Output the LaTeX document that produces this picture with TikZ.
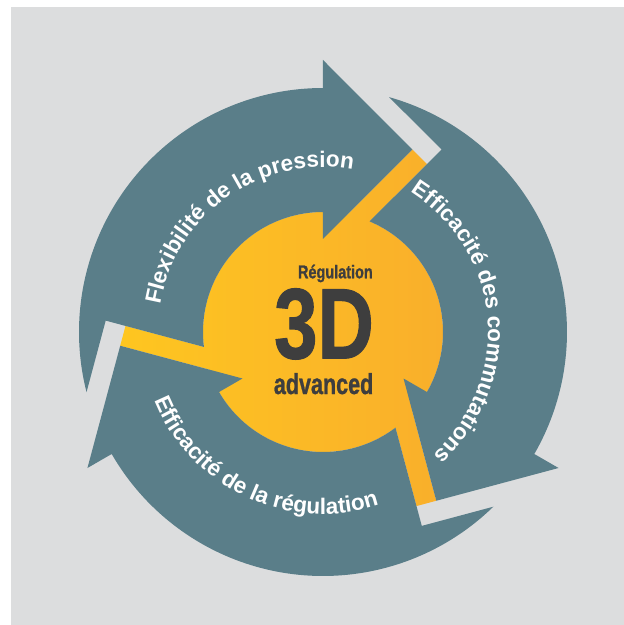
\documentclass[tikz,border=0pt]{standalone}
\usepackage{fontspec}
\usepackage{graphicx}
\setmainfont{Liberation Sans}
\newfontfamily\labfont{Liberation Sans}
\newfontfamily\heavyfont{Liberation Sans}[BoldFeatures={FakeBold=1.2}]
\usetikzlibrary{decorations.text}
\definecolor{bggray}{HTML}{DCDDDE}
\definecolor{arrowc}{HTML}{5A7E89}
\definecolor{yelL}{HTML}{FEC620}
\definecolor{yelR}{HTML}{F9AF2B}
\definecolor{txtdark}{HTML}{3E3E3E}
\begin{document}
\begin{tikzpicture}[x=0.75pt,y=0.75pt,
  arrowshape/.style={fill=arrowc, draw=none},
  curvedlabel/.style={decorate, decoration={text along path, text align=center, text color=white,
     text={|\labfont\bfseries\fontsize{16.9}{20}\selectfont|#1}}},
  centertext/.style={inner sep=0pt, text=txtdark, font=\heavyfont\bfseries}]
\useasboundingbox (-323,-293) rectangle (301,332);
\fill[bggray] (-312,-293) rectangle (301,325);
% yellow centre with three bands
\shade[left color=yelL, right color=yelR] (0,0) circle[radius=120]
  \foreach \a in {0,120,240}{ (63.88-\a:203.26) -- (97.25-\a:83.17) -- (86.63-\a:68.1) -- (58.24-\a:197.59) -- cycle };
% three curved arrows
\foreach \a in {0,120,240}{
  \fill[arrowshape] (194.27-\a:244) arc[start angle=194.27-\a, end angle=90-\a, radius=244]
    -- (90-\a:272) -- (63.88-\a:203.26) -- (90-\a:93) -- (90-\a:120)
    arc[start angle=90-\a, end angle=187.16-\a, radius=120]
    -- (177.0-\a:217.6) -- cycle;
}
% curved labels
\path[curvedlabel={Flexibilité de la pression}] (195:165) arc[start angle=195, end angle=55, radius=165];
\path[curvedlabel={Efficacité des commutations}] (75:165) arc[start angle=75, end angle=-65, radius=165];
\path[curvedlabel={Efficacité de la régulation}] (175:182) arc[start angle=175, end angle=315, radius=182];
% centre text
\node[centertext, anchor=base east] (reg) at (50,53.7) {\scalebox{0.78}[1]{\fontsize{13.9}{14}\selectfont Régulation}};
\node[centertext, anchor=base] (td) at (1,-26.3) {\scalebox{0.78}[1]{\fontsize{75}{75}\selectfont 3D}};
\node[centertext, anchor=base] (adv) at (0.6,-62) {\scalebox{0.745}[1]{\fontsize{21.7}{22}\selectfont advanced}};
\end{tikzpicture}
\end{document}
